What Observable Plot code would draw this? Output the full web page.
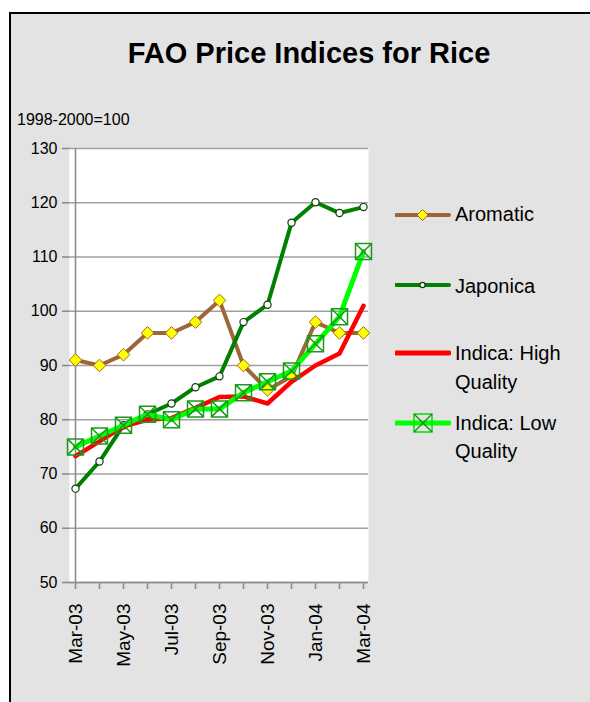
<!DOCTYPE html>
<html>
<head>
<meta charset="utf-8">
<script src="https://cdn.jsdelivr.net/npm/d3@7"></script>
<script src="https://cdn.jsdelivr.net/npm/@observablehq/plot@0.6"></script>
<style>
  html, body { margin: 0; padding: 0; background: #ffffff; overflow: hidden; width: 590px; height: 702px; }
  body { position: relative; font-family: "Liberation Sans", Arial, sans-serif; color: #000; }
  #frame { position: absolute; left: 9px; top: 12px; width: 640px; height: 760px; border-left: 2px solid #000; border-top: 2px solid #000; background: #e3e3e3; }
  #title { position: absolute; left: 0; width: 618px; top: 39px; text-align: center; font-weight: bold; font-size: 29px; line-height: 29px; white-space: nowrap; }
  #subtitle { position: absolute; left: 17px; top: 112px; font-size: 16px; line-height: 16px; white-space: nowrap; }
  #chart { position: absolute; left: 0; top: 135px; }
  #chart svg { display: block; margin: 0; }
  .lg-sw { position: absolute; left: 395px; width: 56px; height: 24px; }
  .lg-tx { position: absolute; left: 455px; font-size: 20px; line-height: 28.5px; white-space: nowrap; }
</style>
</head>
<body>
<div id="frame"></div>
<div id="title">FAO Price Indices for Rice</div>
<div id="subtitle">1998-2000=100</div>
<div id="chart"></div>
<div id="legend"></div>
<script>
const months = ["Mar-03","Apr-03","May-03","Jun-03","Jul-03","Aug-03","Sep-03","Oct-03","Nov-03","Dec-03","Jan-04","Feb-04","Mar-04"];
const xTickLabels = ["Mar-03","May-03","Jul-03","Sep-03","Nov-03","Jan-04","Mar-04"];
const yTicks = [50, 60, 70, 80, 90, 100, 110, 120, 130];
const seriesNames = ["Aromatic", "Japonica", "Indica: High Quality", "Indica: Low Quality"];
const aromatic   = [91, 90, 92, 96, 96, 98, 102, 90, 85.5, 88, 98, 96, 96];
const japonica   = [67.3, 72.3, 79, 81, 83, 86, 88, 98, 101.2, 116.3, 120.1, 118.1, 119.2];
const indicaHigh = [73.3, 76, 78.8, 80, 80.3, 82.2, 84.2, 84.3, 83, 87, 90, 92.2, 101];
const indicaLow  = [75, 77, 79, 81, 80, 82, 82, 85, 87, 89, 94, 99, 111];

const toRows = (vals) => months.map((m, i) => ({month: m, value: vals[i]}));

const diamond = {
  draw(ctx, size) {
    const h = Math.sqrt(size / Math.PI);
    ctx.moveTo(0, -h); ctx.lineTo(h, 0); ctx.lineTo(0, h); ctx.lineTo(-h, 0); ctx.closePath();
  }
};
const boxX = {
  draw(ctx, size) {
    const h = Math.sqrt(size / Math.PI);
    ctx.moveTo(-h, -h); ctx.lineTo(h, -h); ctx.lineTo(h, h); ctx.lineTo(-h, h); ctx.closePath();
    ctx.moveTo(-h, -h); ctx.lineTo(h, h);
    ctx.moveTo(h, -h); ctx.lineTo(-h, h);
  }
};

const chart = Plot.plot({
  width: 380,
  height: 560,
  marginLeft: 69,
  marginRight: 12,
  marginTop: 13,
  marginBottom: 113,
  style: {fontFamily: "'Liberation Sans', Arial, sans-serif", fontSize: "16px", background: "transparent", color: "#000"},
  x: {type: "point", domain: months, padding: 0},
  y: {domain: [50, 130]},
  marks: [
    Plot.frame({fill: "#ffffff", stroke: "none"}),
    Plot.gridY(yTicks, {stroke: "#a0a0a0", strokeOpacity: 1, strokeWidth: 1.6}),
    Plot.ruleX([months[0]], {stroke: "#8c8c8c", strokeWidth: 1.6}),
    Plot.ruleY([50], {stroke: "#8c8c8c", strokeWidth: 1.6}),
    Plot.axisY({ticks: yTicks, tickSize: 7, tickPadding: 5, fontSize: 16, stroke: "#8c8c8c", strokeWidth: 1.6, fill: "#000", label: null}),
    Plot.axisX({ticks: months, tickSize: 7, tickPadding: 14, tickRotate: -90, fontSize: 19, stroke: "#8c8c8c", strokeWidth: 1.6, fill: "#000", label: null,
      tickFormat: d => xTickLabels.includes(d) ? d : ""}),
    Plot.line(toRows(aromatic), {x: "month", y: "value", stroke: "#9e6634", strokeWidth: 4}),
    Plot.dot(toRows(aromatic), {x: "month", y: "value", symbol: diamond, r: 6.3, fill: "#ffff00", stroke: "#9a6a1c", strokeWidth: 1}),
    Plot.line(toRows(japonica), {x: "month", y: "value", stroke: "#008000", strokeWidth: 4}),
    Plot.dot(toRows(japonica), {x: "month", y: "value", r: 3.6, fill: "#ffffff", stroke: "#0b3d0b", strokeWidth: 1.2}),
    Plot.line(toRows(indicaHigh), {x: "month", y: "value", stroke: "#ff0000", strokeWidth: 4.5}),
    Plot.line(toRows(indicaLow), {x: "month", y: "value", stroke: "#00ff00", strokeWidth: 5}),
    Plot.dot(toRows(indicaLow), {x: "month", y: "value", symbol: boxX, r: 8, fill: "none", stroke: "#1a9a1a", strokeWidth: 1.5})
  ]
});
document.getElementById("chart").appendChild(chart);

// Legend
const legendItems = [
  {name: "Aromatic", lines: ["Aromatic"], color: "#9e6634", width: 4, marker: "diamond", cy: 215, top: 200},
  {name: "Japonica", lines: ["Japonica"], color: "#008000", width: 4, marker: "circle", cy: 285, top: 271.5},
  {name: "Indica: High Quality", lines: ["Indica: High", "Quality"], color: "#ff0000", width: 5, marker: null, cy: 353, top: 339},
  {name: "Indica: Low Quality", lines: ["Indica: Low", "Quality"], color: "#00ff00", width: 5, marker: "box", cy: 423, top: 408.5}
];
const legend = document.getElementById("legend");
for (const it of legendItems) {
  const sw = document.createElementNS("http://www.w3.org/2000/svg", "svg");
  sw.setAttribute("class", "lg-sw");
  sw.setAttribute("width", 56); sw.setAttribute("height", 24);
  sw.style.top = (it.cy - 12) + "px";
  let inner = `<line x1="1" x2="54" y1="12" y2="12" stroke="${it.color}" stroke-width="${it.width}" stroke-linecap="round"/>`;
  if (it.marker === "diamond") inner += `<path d="M27.5,6.5L33,12L27.5,17.5L22,12Z" fill="#ffff00" stroke="#9a6a1c" stroke-width="1"/>`;
  if (it.marker === "circle") inner += `<circle cx="27.5" cy="12" r="2.6" fill="#ffffff" stroke="#0b3d0b" stroke-width="1.2"/>`;
  if (it.marker === "box") inner += `<path d="M19,3H37V21H19Z" fill="none" stroke="#00e000" stroke-width="1.5"/><path d="M19,3L37,21M37,3L19,21" stroke="#1a8a1a" stroke-width="1.3"/>`;
  sw.innerHTML = inner;
  legend.appendChild(sw);
  const tx = document.createElement("div");
  tx.className = "lg-tx";
  tx.style.top = it.top + "px";
  tx.innerHTML = it.lines.join("<br>");
  legend.appendChild(tx);
}
</script>
</body>
</html>
